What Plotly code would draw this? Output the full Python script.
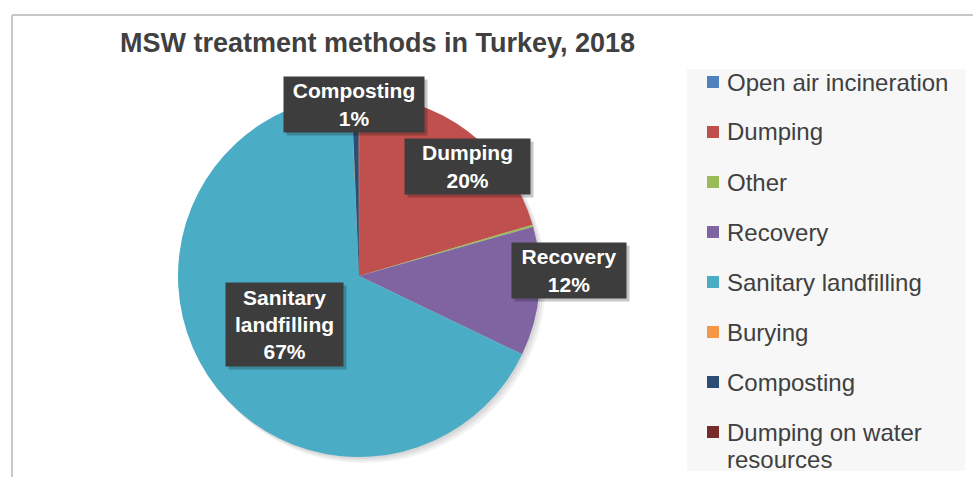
import math
import plotly.graph_objects as go

# MSW treatment methods in Turkey, 2018 (share of collected waste, %)
methods = [
    "Open air incineration",
    "Dumping",
    "Other",
    "Recovery",
    "Sanitary landfilling",
    "Burying",
    "Composting",
    "Dumping on water resources",
]
shares = [0.02, 20.4, 0.2, 11.5, 67.2, 0.03, 0.6, 0.05]
colors = ["#4F81BD", "#C0504D", "#9BBB59", "#8064A2", "#4BACC6", "#F79646", "#2C4D75", "#772C2A"]
labelled = ["Composting", "Dumping", "Recovery", "Sanitary landfilling"]

W, H = 973, 477
CX, CY, R = 359, 276, 181  # pie centre and radius in pixels

# label placement: (radius factor, angular nudge in degrees, box width, box height)
label_style = {
    "Dumping": (0.85, 8.0, 125, 55),
    "Recovery": (1.16, -6.4, 114, 55),
    "Sanitary landfilling": (0.49, 0.0, 117, 83),
    "Composting": (0.95, -0.4, 140, 55),
}


def px(x, y):
    return x / W, 1 - y / H


fig = go.Figure()
fig.add_trace(go.Pie(
    labels=methods,
    values=shares,
    sort=False,
    direction="clockwise",
    rotation=0,
    marker=dict(colors=colors, line=dict(width=0)),
    textinfo="none",
    hoverinfo="label+percent",
    showlegend=False,
    domain=dict(x=[(CX - R) / W, (CX + R) / W], y=[1 - (CY + R) / H, 1 - (CY - R) / H]),
))

shapes = []
annotations = []

# soft drop shadow behind the pie
for i, a in enumerate([0.05, 0.05, 0.06]):
    off = 4 - i
    x0, y0 = px(CX - R + off, CY - R + off)
    x1, y1 = px(CX + R + off + 2 - i, CY + R + off + 2 - i)
    shapes.append(dict(type="circle", xref="paper", yref="paper", x0=x0, x1=x1, y0=y1, y1=y0,
                       fillcolor=f"rgba(0,0,0,{a})", line=dict(width=0), layer="below"))

# chart frame (top and left edges)
fx0, fy0 = px(12, 15)
shapes.append(dict(type="line", xref="paper", yref="paper", x0=fx0, x1=1, y0=fy0, y1=fy0,
                   line=dict(color="#c8c8c8", width=2)))
shapes.append(dict(type="line", xref="paper", yref="paper", x0=fx0, x1=fx0, y0=0, y1=fy0,
                   line=dict(color="#c8c8c8", width=2)))

# legend panel
lx0, ly0 = px(687, 69)
lx1, ly1 = px(965, 471)
shapes.append(dict(type="rect", xref="paper", yref="paper", x0=lx0, x1=lx1, y0=ly1, y1=ly0,
                   fillcolor="#f7f7f7", line=dict(width=0), layer="below"))

# legend entries
legend_font = dict(family="Liberation Sans", size=24, color="#404040")
for i, (name, col) in enumerate(zip(methods, colors)):
    yc = 82 + 50 * i
    sx0, sy0 = px(707, yc - 6)
    sx1, sy1 = px(719, yc + 6)
    shapes.append(dict(type="rect", xref="paper", yref="paper", x0=sx0, x1=sx1, y0=sy1, y1=sy0,
                       fillcolor=col, line=dict(width=0)))
    lines = [name]
    if len(name) > 22:
        lines = list(name.rsplit(" ", 1))
    for j, line in enumerate(lines):
        tx, ty = px(725, yc + 27 * j)
        annotations.append(dict(xref="paper", yref="paper", x=tx, y=ty, xanchor="left", yanchor="middle",
                                text=line, showarrow=False, align="left", font=legend_font))

# data labels on dark boxes
total = sum(shares)
cum = 0.0
for name, v in zip(methods, shares):
    start = cum
    cum += v
    if name not in labelled:
        continue
    rf, nudge, bw, bh = label_style[name]
    mid = (start + v / 2) / total * 360 + nudge
    lx = CX + rf * R * math.sin(math.radians(mid))
    ly = CY - rf * R * math.cos(math.radians(mid))
    title = name.replace(" ", "<br>") if len(name) > 12 else name
    text = f"<b>{title}<br>{v / total:.0%}</b>"
    sx, sy = px(lx + 3, ly + 3)
    annotations.append(dict(xref="paper", yref="paper", x=sx, y=sy, xanchor="center", yanchor="middle",
                            text="", showarrow=False, width=bw, height=bh, borderpad=0,
                            bgcolor="rgba(0,0,0,0.22)"))
    ax, ay = px(lx, ly)
    annotations.append(dict(xref="paper", yref="paper", x=ax, y=ay, xanchor="center", yanchor="middle",
                            text=text, showarrow=False, width=bw, height=bh, borderpad=0,
                            bgcolor="#3d3d3d", align="center",
                            font=dict(family="Liberation Sans", size=21, color="white")))

# title
tx, ty = px(377, 43)
annotations.append(dict(xref="paper", yref="paper", x=tx, y=ty, xanchor="center", yanchor="middle",
                        text="<b>MSW treatment methods in Turkey, 2018</b>", showarrow=False,
                        font=dict(family="Liberation Sans", size=27, color="#404040")))

fig.update_layout(
    width=W, height=H,
    margin=dict(l=0, r=0, t=0, b=0),
    paper_bgcolor="white",
    plot_bgcolor="white",
    shapes=shapes,
    annotations=annotations,
)

fig.write_html("out.html")
